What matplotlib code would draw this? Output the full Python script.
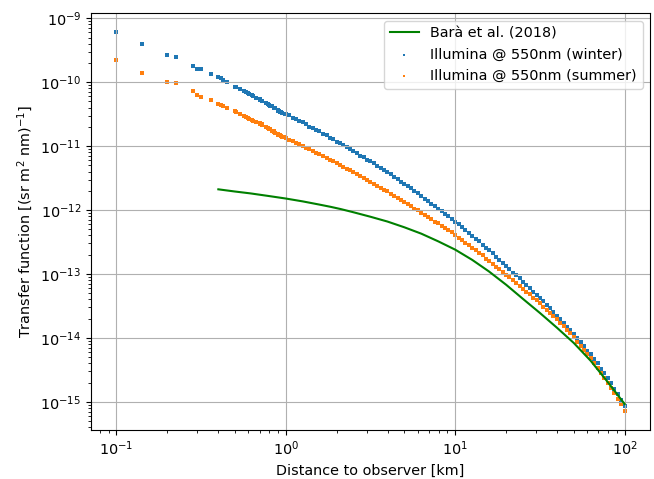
# -*- coding: utf-8 -*-
"""
Transfer function vs distance: Illumina runs compared with Bara et al. (2018)
"""

import numpy as np
import matplotlib.pyplot as plt

# Distance to observer (km) of the Illumina points
dist_km = [0.1, 0.141, 0.2, 0.224, 0.283, 0.3, 0.316, 0.361, 0.4, 0.412, 0.424, 0.447,
           0.5, 0.51, 0.539, 0.566, 0.583, 0.6, 0.608, 0.632, 0.64, 0.671,
           0.7, 0.707, 0.721, 0.728, 0.762, 0.781, 0.8, 0.806, 0.825, 0.849,
           0.854, 0.86, 0.894, 0.9, 0.906, 0.922, 0.943, 0.949, 0.985, 0.99,
           1.0, 1.05, 1.1, 1.15, 1.2, 1.26, 1.32, 1.38, 1.45, 1.51,
           1.58, 1.66, 1.74, 1.82, 1.91, 2.0, 2.09, 2.19, 2.29, 2.4,
           2.51, 2.63, 2.75, 2.88, 3.02, 3.16, 3.31, 3.47, 3.63, 3.8,
           3.98, 4.17, 4.37, 4.57, 4.79, 5.01, 5.25, 5.5, 5.75, 6.03,
           6.31, 6.61, 6.92, 7.24, 7.59, 7.94, 8.32, 8.71, 9.12, 9.55,
           10.0, 10.5, 11.0, 11.5, 12.0, 12.6, 13.2, 13.8, 14.5, 15.1,
           15.8, 16.6, 17.4, 18.2, 19.1, 20.0, 20.9, 21.9, 22.9, 24.0,
           25.1, 26.3, 27.5, 28.8, 30.2, 31.6, 33.1, 34.7, 36.3, 38.0,
           39.8, 41.7, 43.7, 45.7, 47.9, 50.1, 52.5, 55.0, 57.5, 60.3,
           63.1, 66.1, 69.2, 72.4, 75.9, 79.4, 83.2, 87.1, 91.2, 95.5,
           100.0]

# log10 of the transfer function, (sr m2 nm)^-1
winter_log10 = [-9.22, -9.40, -9.57, -9.61, -9.74, -9.79, -9.80, -9.87, -9.92, -9.93, -9.96, -9.99,
                -10.07, -10.08, -10.11, -10.14, -10.16, -10.17, -10.18, -10.20, -10.21, -10.25,
                -10.27, -10.28, -10.29, -10.30, -10.33, -10.34, -10.36, -10.37, -10.38, -10.40,
                -10.41, -10.41, -10.44, -10.45, -10.45, -10.46, -10.47, -10.48, -10.49, -10.50,
                -10.50, -10.52, -10.56, -10.57, -10.61, -10.63, -10.65, -10.70, -10.71, -10.75,
                -10.77, -10.81, -10.83, -10.87, -10.89, -10.93, -10.95, -10.99, -11.02, -11.04,
                -11.08, -11.11, -11.15, -11.17, -11.21, -11.24, -11.27, -11.31, -11.34, -11.38,
                -11.41, -11.44, -11.49, -11.51, -11.56, -11.59, -11.63, -11.66, -11.71, -11.74,
                -11.78, -11.82, -11.86, -11.90, -11.93, -11.98, -12.01, -12.06, -12.10, -12.14,
                -12.18, -12.22, -12.27, -12.31, -12.36, -12.40, -12.45, -12.49, -12.54, -12.59,
                -12.63, -12.68, -12.73, -12.78, -12.83, -12.87, -12.92, -12.98, -13.02, -13.07,
                -13.12, -13.17, -13.22, -13.28, -13.33, -13.38, -13.43, -13.49, -13.54, -13.60,
                -13.65, -13.71, -13.76, -13.83, -13.88, -13.94, -14.00, -14.07, -14.13, -14.20,
                -14.26, -14.33, -14.40, -14.48, -14.55, -14.62, -14.71, -14.80, -14.88, -14.97,
                -15.06]

summer_log10 = [-9.66, -9.85, -10.00, -10.02, -10.14, -10.20, -10.23, -10.28, -10.34, -10.36, -10.38, -10.40,
                -10.45, -10.47, -10.50, -10.53, -10.55, -10.56, -10.57, -10.59, -10.60, -10.62,
                -10.64, -10.65, -10.66, -10.67, -10.70, -10.72, -10.73, -10.74, -10.76, -10.77,
                -10.78, -10.79, -10.81, -10.82, -10.82, -10.83, -10.84, -10.85, -10.86, -10.86,
                -10.87, -10.90, -10.92, -10.95, -10.97, -11.00, -11.03, -11.05, -11.08, -11.10,
                -11.13, -11.16, -11.18, -11.22, -11.24, -11.27, -11.30, -11.32, -11.36, -11.38,
                -11.41, -11.44, -11.47, -11.50, -11.53, -11.56, -11.59, -11.63, -11.65, -11.69,
                -11.71, -11.75, -11.78, -11.81, -11.85, -11.87, -11.91, -11.94, -11.98, -12.00,
                -12.04, -12.07, -12.11, -12.14, -12.18, -12.21, -12.25, -12.28, -12.32, -12.35,
                -12.39, -12.43, -12.47, -12.51, -12.55, -12.59, -12.63, -12.68, -12.71, -12.76,
                -12.80, -12.84, -12.89, -12.92, -12.97, -13.01, -13.05, -13.10, -13.14, -13.19,
                -13.23, -13.28, -13.32, -13.37, -13.41, -13.46, -13.51, -13.56, -13.61, -13.66,
                -13.71, -13.77, -13.82, -13.88, -13.93, -13.99, -14.06, -14.12, -14.19, -14.25,
                -14.32, -14.40, -14.47, -14.55, -14.62, -14.70, -14.79, -14.87, -14.96, -15.04,
                -15.14]

# Bara et al. (2018) curve
bara_km = [0.4, 0.5, 0.62, 0.79, 1.0, 1.26, 1.58, 1.84, 2.11, 2.51, 2.91, 3.16, 3.98, 5.01,
           6.31, 7.94, 10.0, 12.6, 15.8, 20.0, 25.1, 31.6, 39.8, 50.1, 63.1, 79.4, 100.0]
bara_log10 = [-11.676, -11.71, -11.74, -11.78, -11.82, -11.865, -11.915, -11.95, -11.985,
              -12.035, -12.08, -12.105, -12.18, -12.27, -12.37, -12.49, -12.62, -12.78,
              -12.96, -13.17, -13.39, -13.61, -13.84, -14.08, -14.36, -14.69, -15.035]

plt.rcParams['font.size'] = 10.4

fig, ax = plt.subplots(figsize=(6.54, 4.79), dpi=100)
fig.subplots_adjust(left=0.139, right=0.994, top=0.972, bottom=0.103)

ax.plot(bara_km, np.power(10.0, bara_log10), color='green', label='Barà et al. (2018)')
ax.scatter(dist_km, np.power(10.0, winter_log10), s=7, linewidths=0, marker='s',
           color='C0', label='Illumina @ 550nm (winter)')
ax.scatter(dist_km, np.power(10.0, summer_log10), s=7, linewidths=0, marker='s',
           color='C1', label='Illumina @ 550nm (summer)')

ax.set_xscale('log')
ax.set_yscale('log')
ax.grid(True)

ax.set_xlabel('Distance to observer [km]')
ax.set_ylabel('Transfer function [(sr m$^2$ nm)$^{-1}$]')
ax.legend(loc='upper right', markerscale=0.6)

plt.savefig('out.png', dpi=100)
plt.close()
